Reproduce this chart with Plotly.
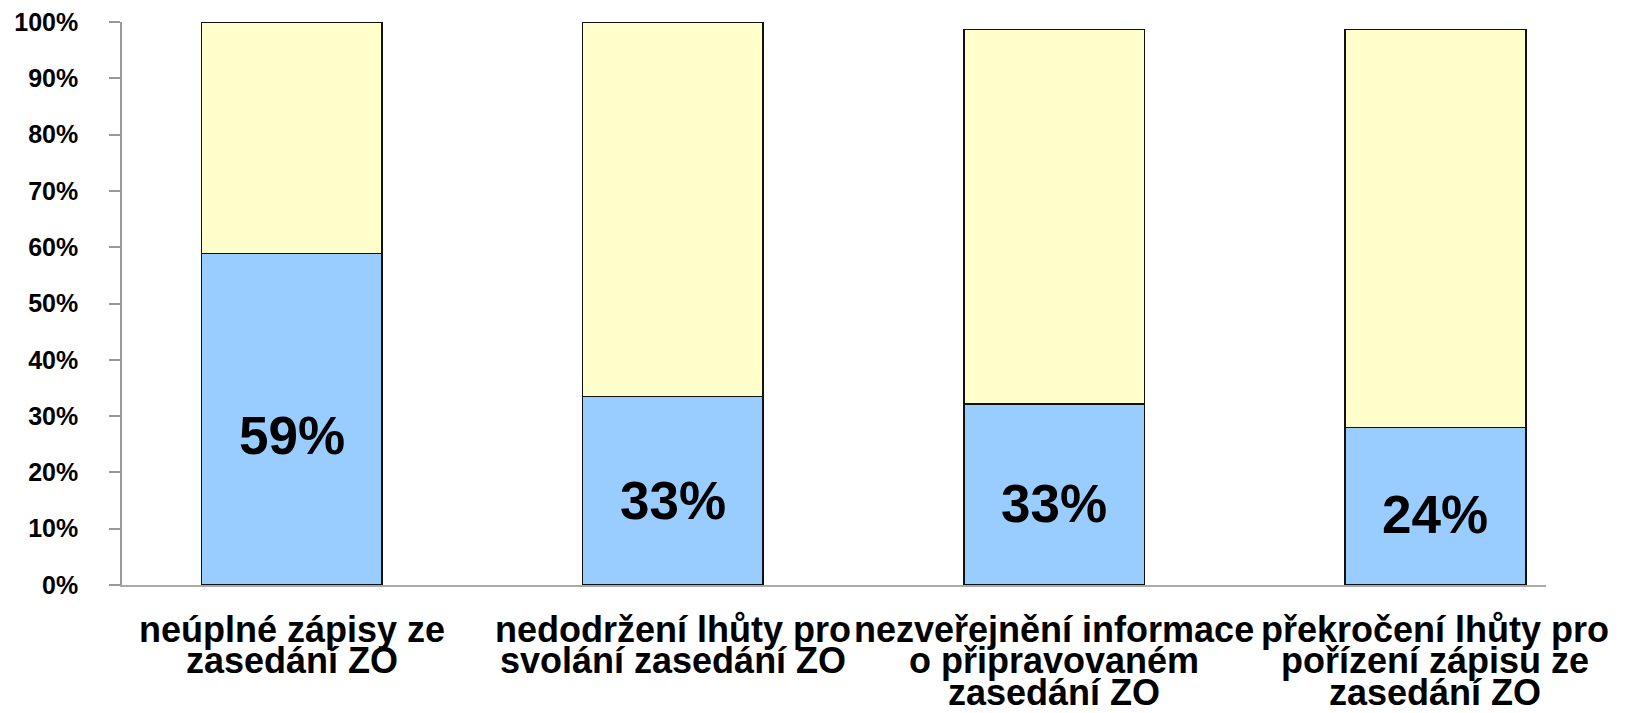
import plotly.graph_objects as go

categories = ["c1", "c2", "c3", "c4"]
label_lines = [
    ["neúplné zápisy ze", "zasedání ZO"],
    ["nedodržení lhůty pro", "svolání zasedání ZO"],
    ["nezveřejnění informace", "o připravovaném", "zasedání ZO"],
    ["překročení lhůty pro", "pořízení zápisu ze", "zasedání ZO"],
]
blue_values = [0.589, 0.335, 0.322, 0.280]
yellow_values = [0.411, 0.665, 0.665, 0.707]
blue_labels = ["59%", "33%", "33%", "24%"]
y_ticks = [i / 10 for i in range(11)]

FONT = "Liberation Sans, Arial, sans-serif"

fig = go.Figure()
fig.add_trace(go.Bar(
    x=categories, y=blue_values, name="blue",
    marker=dict(color="#99CCFF", line=dict(color="#111111", width=1.6)),
    width=0.474, hoverinfo="skip",
))
fig.add_trace(go.Bar(
    x=categories, y=yellow_values, name="yellow",
    marker=dict(color="#FFFFCC", line=dict(color="#111111", width=1.6)),
    width=0.474, hoverinfo="skip",
))

annotations = []
# value labels inside the blue segments (a bit below the segment middle)
for cat, v, lab in zip(categories, blue_values, blue_labels):
    annotations.append(dict(
        x=cat, xref="x", y=v * 0.45, yref="y",
        text=lab, showarrow=False, yanchor="middle", xanchor="center",
        font=dict(family=FONT, size=53, color="black", weight="bold"),
    ))
# category labels below the axis, one line per annotation (tight leading)
for i, lines in enumerate(label_lines):
    for j, line in enumerate(lines):
        annotations.append(dict(
            x=categories[i], xref="x", y=0, yref="paper",
            text=line, showarrow=False, yanchor="middle", xanchor="center",
            yshift=-44 - 31.5 * j,
            font=dict(family=FONT, size=36, color="black", weight="bold"),
        ))

fig.update_layout(
    barmode="stack",
    width=1627, height=713,
    margin=dict(l=114, r=89, t=14, b=136, pad=0, autoexpand=False),
    paper_bgcolor="white", plot_bgcolor="white",
    showlegend=False,
    annotations=annotations,
    xaxis=dict(
        type="category", range=[-0.445, 3.29], automargin=False,
        showticklabels=False, ticks="", showgrid=False,
        showline=True, linecolor="#AAAAAA", linewidth=1.5,
        zeroline=False, fixedrange=True,
    ),
    yaxis=dict(
        range=[0, 1], tickvals=y_ticks, tickformat=".0%", automargin=False,
        ticks="outside", ticklen=11, tickcolor="#999999", tickwidth=1.5,
        showline=True, linecolor="#999999", linewidth=1.5,
        showgrid=False, zeroline=False,
        tickfont=dict(family=FONT, size=25, color="black", weight="bold"),
        ticklabelstandoff=26, ticklabeloverflow="allow",
    ),
)

fig.write_html("out.html")
